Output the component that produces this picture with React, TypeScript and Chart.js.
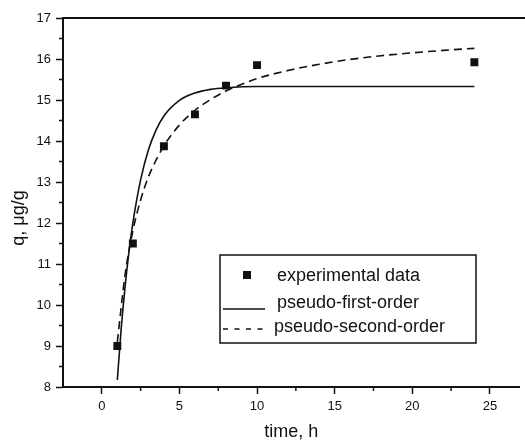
import React, { useEffect, useRef } from "react";
import { Chart, registerables } from "chart.js";

Chart.register(...registerables);

// ---- data ----
const expTime = [1, 2, 4, 6, 8, 10, 24];
const expQ = [9.0, 11.5, 13.87, 14.65, 15.35, 15.85, 15.92];

const firstOrderTime = [1, 1.25, 1.5, 1.75, 2, 2.5, 3, 3.5, 4, 5, 6, 7, 8, 10, 12, 16, 20, 24];
const firstOrderQ = [8.17, 9.43, 10.45, 11.3, 12.0, 13.05, 13.78, 14.27, 14.61, 14.99, 15.17, 15.26, 15.3, 15.33, 15.33, 15.33, 15.33, 15.33];

const secondOrderTime = [1, 1.5, 2, 2.5, 3, 4, 5, 6, 7, 8, 10, 12, 14, 16, 18, 20, 22, 24];
const secondOrderQ = [9.1, 10.74, 11.81, 12.56, 13.12, 13.88, 14.39, 14.75, 15.01, 15.22, 15.52, 15.72, 15.87, 15.99, 16.08, 16.15, 16.21, 16.26];

const xTickValues = [0, 5, 10, 15, 20, 25];
const xMinorTicks = [2.5, 7.5, 12.5, 17.5, 22.5];
const yTickValues = [8, 9, 10, 11, 12, 13, 14, 15, 16, 17];
const yMinorTicks = [8.5, 9.5, 10.5, 11.5, 12.5, 13.5, 14.5, 15.5, 16.5];

const seriesLabels = ["experimental data", "pseudo-first-order", "pseudo-second-order"];
const xAxisTitle = "time, h";
const yAxisTitle = "q, \u03BCg/g";

const INK = "#111111";
const FONT = '"Liberation Sans", Arial, Helvetica, sans-serif';

const toPoints = (xs: number[], ys: number[]) => xs.map((x, i) => ({ x, y: ys[i] }));

const decorPlugin = {
  id: "decor",
  afterDraw(chart: any) {
    const { ctx, chartArea, scales } = chart;
    const x = scales.x;
    const y = scales.y;
    ctx.save();
    ctx.strokeStyle = INK;
    ctx.fillStyle = INK;

    // top frame line
    ctx.lineWidth = 2;
    ctx.beginPath();
    ctx.moveTo(chartArea.left - 1, chartArea.top);
    ctx.lineTo(chart.width, chartArea.top);
    ctx.stroke();

    // minor ticks
    ctx.lineWidth = 1.5;
    ctx.beginPath();
    xMinorTicks.forEach((v) => {
      const px = x.getPixelForValue(v);
      ctx.moveTo(px, chartArea.bottom);
      ctx.lineTo(px, chartArea.bottom + 4);
    });
    yMinorTicks.forEach((v) => {
      const py = y.getPixelForValue(v);
      ctx.moveTo(chartArea.left, py);
      ctx.lineTo(chartArea.left - 4, py);
    });
    ctx.stroke();

    // y axis title
    ctx.save();
    ctx.translate(19, 218);
    ctx.rotate(-Math.PI / 2);
    ctx.font = "18px " + FONT;
    ctx.textAlign = "center";
    ctx.textBaseline = "middle";
    ctx.fillText(yAxisTitle, 0, 0);
    ctx.restore();

    // legend
    const bx = 220, by = 255, bw = 256, bh = 88;
    ctx.lineWidth = 1.5;
    ctx.strokeRect(bx, by, bw, bh);
    ctx.font = "18px " + FONT;
    ctx.textAlign = "left";
    ctx.textBaseline = "middle";

    // item 1: square marker
    ctx.fillRect(243, 271, 8, 8);
    ctx.fillText(seriesLabels[0], 277, 276);

    // item 2: solid line
    ctx.lineWidth = 1.6;
    ctx.setLineDash([]);
    ctx.beginPath();
    ctx.moveTo(223, 309);
    ctx.lineTo(265, 309);
    ctx.stroke();
    ctx.fillText(seriesLabels[1], 277, 303);

    // item 3: dashed line
    ctx.setLineDash([5, 6.5]);
    ctx.beginPath();
    ctx.moveTo(223, 329);
    ctx.lineTo(265, 329);
    ctx.stroke();
    ctx.setLineDash([]);
    ctx.fillText(seriesLabels[2], 274, 327);

    ctx.restore();
  },
};

export default function App() {
  const canvasRef = useRef<HTMLCanvasElement | null>(null);

  useEffect(() => {
    if (!canvasRef.current) return;
    const chart = new Chart(canvasRef.current, {
      type: "scatter",
      data: {
        datasets: [
          {
            label: seriesLabels[0],
            data: toPoints(expTime, expQ),
            showLine: false,
            pointStyle: "rect",
            pointRadius: 5.6,
            pointBackgroundColor: INK,
            pointBorderColor: INK,
            pointBorderWidth: 0,
            order: 0,
          },
          {
            label: seriesLabels[1],
            data: toPoints(firstOrderTime, firstOrderQ),
            showLine: true,
            borderColor: INK,
            borderWidth: 1.6,
            pointRadius: 0,
            cubicInterpolationMode: "monotone",
            order: 1,
          },
          {
            label: seriesLabels[2],
            data: toPoints(secondOrderTime, secondOrderQ),
            showLine: true,
            borderColor: INK,
            borderWidth: 1.6,
            borderDash: [8, 5],
            pointRadius: 0,
            cubicInterpolationMode: "monotone",
            order: 2,
          },
        ],
      },
      options: {
        responsive: false,
        animation: false,
        layout: { padding: { top: 18, right: 0, bottom: 0, left: 0 } },
        plugins: {
          legend: { display: false },
          tooltip: { enabled: false },
        },
        scales: {
          x: {
            type: "linear",
            min: -2.5,
            max: 26.9,
            afterBuildTicks: (scale: any) => {
              scale.ticks = xTickValues.map((value) => ({ value }));
            },
            afterFit: (scale: any) => {
              scale.height = 54;
            },
            grid: {
              display: true,
              drawOnChartArea: false,
              drawTicks: true,
              tickLength: 7,
              tickWidth: 1.5,
              tickColor: INK,
            },
            border: { display: true, color: INK, width: 2 },
            ticks: {
              color: INK,
              font: { family: FONT, size: 13 },
              padding: 5,
              maxRotation: 0,
            },
            title: {
              display: true,
              text: xAxisTitle,
              color: INK,
              font: { family: FONT, size: 18, lineHeight: 1 },
              padding: { top: 0, bottom: 0 },
            },
          },
          y: {
            type: "linear",
            min: 8,
            max: 17,
            afterBuildTicks: (scale: any) => {
              scale.ticks = yTickValues.map((value) => ({ value }));
            },
            afterFit: (scale: any) => {
              scale.width = 63;
            },
            grid: {
              display: true,
              drawOnChartArea: false,
              drawTicks: true,
              tickLength: 7,
              tickWidth: 1.5,
              tickColor: INK,
            },
            border: { display: true, color: INK, width: 2 },
            ticks: {
              color: INK,
              font: { family: FONT, size: 13 },
              padding: 5,
            },
          },
        },
      },
      plugins: [decorPlugin],
    } as any);
    return () => chart.destroy();
  }, []);

  return (
    <div style={{ position: "absolute", left: 0, top: 0, width: 525, height: 441, background: "#fff" }}>
      <canvas ref={canvasRef} width={525} height={441} style={{ display: "block" }} />
    </div>
  );
}
